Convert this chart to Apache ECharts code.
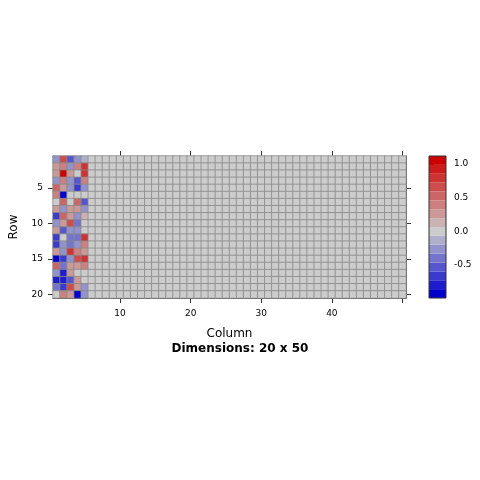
<!DOCTYPE html>
<html><head><meta charset="utf-8">
<script src="https://cdn.jsdelivr.net/npm/echarts@6/dist/echarts.min.js"></script>
<style>html,body{margin:0;padding:0;background:#fff}#c{width:480px;height:480px}</style>
</head><body><div id="c"></div>
<script>
// ---- data ----
const rowLabels = ['1','2','3','4','5','6','7','8','9','10','11','12','13','14','15','16','17','18','19','20'];
const colLabels = ['1','2','3','4','5','6','7','8','9','10','11','12','13','14','15','16','17','18','19','20',
  '21','22','23','24','25','26','27','28','29','30','31','32','33','34','35','36','37','38','39','40',
  '41','42','43','44','45','46','47','48','49','50'];
// values of columns 1..5, rows 1..20; every other column is 0 (grey)
const column1 = [-0.25, 0.30, 0.30, -0.25, 0.55, 0.45, 0.00, 0.30, -0.70, -0.25, 0.30, -0.70, -0.65, 0.30, -0.95, 0.55, -0.25, -0.80, -0.40, 0.00];
const column2 = [0.60, 0.35, 1.08, 0.35, 0.30, -0.90, 0.55, -0.25, 0.50, 0.30, -0.55, 0.05, -0.25, -0.25, -0.60, -0.40, -0.80, -0.80, -0.65, 0.45];
const column3 = [-0.50, -0.25, 0.30, -0.25, -0.25, 0.00, 0.00, 0.30, 0.30, 0.60, -0.25, -0.40, -0.40, 0.80, -0.25, 0.30, 0.25, -0.50, 0.65, 0.30];
const column4 = [-0.25, 0.40, 0.05, -0.50, -0.60, 0.00, 0.50, 0.30, -0.25, -0.45, -0.25, -0.40, -0.30, 0.35, 0.60, 0.30, 0.05, 0.30, 0.30, -0.99];
const column5 = [-0.15, 0.80, 0.75, 0.40, -0.20, 0.00, -0.55, -0.25, 0.15, 0.00, 0.00, 0.80, 0.40, 0.20, 0.85, 0.45, 0.00, 0.00, -0.25, -0.25];
const otherColumnValue = 0;
const xTickValues = [10, 20, 30, 40, 50];
const xTickLabels = [10, 20, 30, 40];
const yTickLabels = [5, 10, 15, 20];
const keyTickLabels = [-0.5, 0.0, 0.5, 1.0];
const keyMin = -0.99, keyMax = 1.12, keyBins = 16;
const titleText = 'Dimensions: 20 x 50';

// ---- build ----
const filledColumns = [column1, column2, column3, column4, column5];
const cells = [];
for (let c = 0; c < colLabels.length; c++) {
  for (let r = 0; r < rowLabels.length; r++) {
    const v = c < filledColumns.length ? filledColumns[c][r] : otherColumnValue;
    cells.push([c, r, v]);
  }
}
function hex(c){return [parseInt(c.slice(1,3),16),parseInt(c.slice(3,5),16),parseInt(c.slice(5,7),16)];}
function mix(a,b,t){const A=hex(a),B=hex(b);return 'rgb('+A.map((x,i)=>Math.round(x+(B[i]-x)*t)).join(',')+')';}
const lowC='#0000CD', midC='#CCCCCC', highC='#CD0000';
const step=(keyMax-keyMin)/keyBins;
const edges=[]; for(let i=0;i<=keyBins;i++) edges.push(keyMin+i*step);
const mids=edges.slice(0,-1).map((e)=>e+step/2);
const binColors=mids.map((m,i)=>{
  if (edges[i]<=0 && edges[i+1]>0) return midC;
  if (m<0) return mix(midC, lowC, m/mids[0]);
  return mix(midC, highC, m/mids[keyBins-1]);
});
const pieces=binColors.map((col,i)=>({gte:edges[i], lt: i===keyBins-1? keyMax+1 : edges[i+1], color:col}));
const keyData=binColors.map((c,i)=>[edges[i], edges[i+1], i]);

const FONT='DejaVu Sans';
const axisCol='#333';
const chart=echarts.init(document.getElementById('c'),null,{renderer:'canvas'});
const tickX = (idx)=> xTickValues.includes(Number(colLabels[idx]));
const labX = (idx)=> xTickLabels.includes(Number(colLabels[idx]));
const tickY = (idx)=> yTickLabels.includes(Number(rowLabels[idx]));
chart.setOption({
  animation:false,
  backgroundColor:'#fff',
  title:{text:titleText,left:'center',top:343,padding:0,textStyle:{fontFamily:FONT,fontSize:12,fontWeight:'bold',color:'#000'}},
  grid:[
    {left:50,top:156,width:356,height:142,show:false},
    {left:429,top:156,width:17,height:142,show:true,borderColor:axisCol,borderWidth:1,backgroundColor:'transparent',z:5}
  ],
  xAxis:[
    {type:'category',gridIndex:0,data:colLabels,position:'bottom',
     name:'Column',nameLocation:'middle',nameGap:30,nameTextStyle:{fontFamily:FONT,fontSize:12,color:'#000'},
     axisLine:{show:true,lineStyle:{color:axisCol,width:1}},
     axisTick:{show:true,alignWithLabel:true,interval:tickX,length:5,lineStyle:{color:axisCol}},
     axisLabel:{show:true,interval:labX,margin:11,fontFamily:FONT,fontSize:9,color:'#000'},
     splitLine:{show:false}},
    {type:'category',gridIndex:0,data:colLabels,position:'top',
     axisLine:{show:true,lineStyle:{color:axisCol,width:1}},
     axisTick:{show:true,alignWithLabel:true,interval:tickX,length:5,lineStyle:{color:axisCol}},
     axisLabel:{show:false},splitLine:{show:false}},
    {type:'value',gridIndex:1,min:0,max:1,show:false}
  ],
  yAxis:[
    {type:'category',gridIndex:0,data:rowLabels,inverse:true,position:'left',
     name:'Row',nameLocation:'middle',nameGap:33,nameRotate:90,nameTextStyle:{fontFamily:FONT,fontSize:12,color:'#000'},
     axisLine:{show:true,lineStyle:{color:axisCol,width:1}},
     axisTick:{show:true,alignWithLabel:true,interval:(i)=>tickY(i),length:5,lineStyle:{color:axisCol}},
     axisLabel:{show:true,interval:(i)=>tickY(i),margin:10,fontFamily:FONT,fontSize:9,color:'#000'},
     splitLine:{show:false}},
    {type:'category',gridIndex:0,data:rowLabels,inverse:true,position:'right',
     axisLine:{show:true,lineStyle:{color:axisCol,width:1}},
     axisTick:{show:true,alignWithLabel:true,interval:(i)=>tickY(i),length:5,lineStyle:{color:axisCol}},
     axisLabel:{show:false},splitLine:{show:false}},
    {type:'value',gridIndex:1,min:keyMin,max:keyMax,position:'right',
     axisLine:{show:false},
     axisTick:{show:true,customValues:keyTickLabels,length:5,lineStyle:{color:axisCol}},
     axisLabel:{show:true,customValues:keyTickLabels,formatter:(v)=>Number(v).toFixed(1),margin:8,fontFamily:FONT,fontSize:9,color:'#000'},
     splitLine:{show:false}}
  ],
  visualMap:{type:'piecewise',show:false,dimension:2,seriesIndex:0,pieces:pieces},
  series:[
    {type:'heatmap',xAxisIndex:0,yAxisIndex:0,data:cells,progressive:0,
     itemStyle:{borderColor:'#8a8a8a',borderWidth:0.8},emphasis:{disabled:true}},
    {type:'custom',xAxisIndex:2,yAxisIndex:2,data:keyData,encode:{x:-1,y:[0,1]},silent:true,
     renderItem:function(params,api){
       const lo=api.value(0), hi=api.value(1);
       const top=api.coord([0,hi]), bot=api.coord([0,lo]);
       const cs=params.coordSys;
       return {type:'rect',shape:{x:cs.x,y:top[1],width:cs.width,height:bot[1]-top[1]},style:{fill:binColors[api.value(2)]}};
     }}
  ]
});
</script></body></html>
